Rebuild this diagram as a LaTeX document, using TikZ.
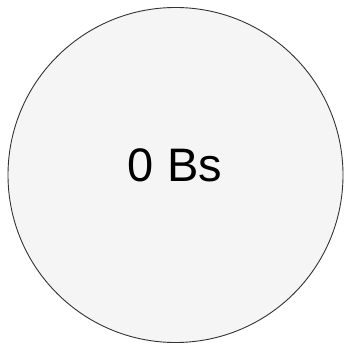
\documentclass[tikz,border=0pt]{standalone}
\usepackage{fontspec}
\setmainfont{Liberation Sans}
\definecolor{circfill}{HTML}{F5F5F5}
\definecolor{circline}{HTML}{333333}
\begin{document}
\begin{tikzpicture}[x=1pt,y=-1pt,
  bubble/.style={circle,draw=circline,line width=0.9pt,fill=circfill,minimum size=335pt,inner sep=0pt},
  label/.style={font=\fontsize{47}{56}\selectfont,text=black,inner sep=0pt}]
\useasboundingbox (0,0) rectangle (344,347);
\node[bubble] (c) at (175.5,175) {};
\node[label,anchor=base] (t) at (175,182) {0 Bs};
\end{tikzpicture}
\end{document}
